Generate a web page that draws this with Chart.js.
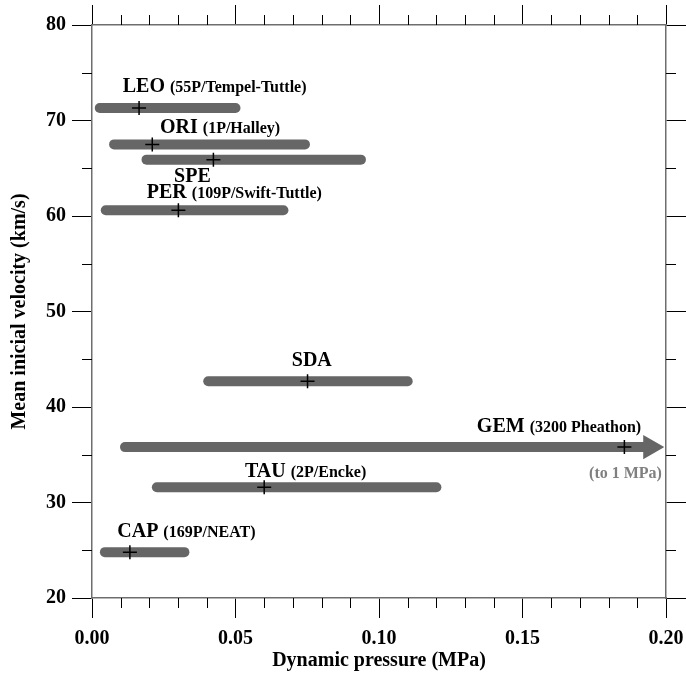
<!DOCTYPE html>
<html>
<head>
<meta charset="utf-8">
<script src="https://cdn.jsdelivr.net/npm/chart.js@4/dist/chart.umd.min.js"></script>
<style>
  body { margin: 0; background: #fff; }
</style>
</head>
<body>
<canvas id="graf" width="686" height="677"></canvas>
<script>
// les essaims : vitesse moyenne et plage de pression dynamique
const essaims = ['LEO', 'ORI', 'SPE', 'PER', 'SDA', 'GEM', 'TAU', 'CAP'];
const parents = ['55P/Tempel-Tuttle', '1P/Halley', '', '109P/Swift-Tuttle', '', '3200 Pheathon', '2P/Encke', '169P/NEAT'];
const vitesse = [71.3, 67.5, 65.9, 60.6, 42.7, 35.8, 31.6, 24.8];
const pressionMin = [0.0027, 0.0077, 0.019, 0.0048, 0.0405, 0.0115, 0.0226, 0.0045];
const pressionMax = [0.050, 0.0742, 0.0937, 0.0667, 0.110, 0.1947, 0.120, 0.0322];
const pressionMoy = [0.0164, 0.021, 0.0423, 0.0301, 0.0751, 0.1855, 0.060, 0.0132];
// GEM continue hors du graphe (jusqu'a 1 MPa) -> fleche
const flecheGEM = {x: 0.1945, y: 35.8};
const noteGEM = '(to 1 MPa)';
// ancrage des etiquettes (MPa, km/s)
const etiqX = [0.0107, 0.0237, 0.0286, 0.0191, 0.0696, 0.1341, 0.0533, 0.0088];
const etiqY = [73.0, 68.7, 63.55, 61.85, 44.3, 37.4, 32.7, 26.4];
const noteAt = {x: 0.1732, y: 32.55};

const xTicks = [0, 0.05, 0.10, 0.15, 0.20];
const yTicks = [20, 30, 40, 50, 60, 70, 80];

const police = '"Liberation Serif", "DejaVu Serif", serif';
const gris = '#666666';

Chart.defaults.font.family = police;
Chart.defaults.color = '#000';

// les barres
const jeux = essaims.map((nom, i) => ({
  label: nom,
  data: [{x: pressionMin[i], y: vitesse[i]}, {x: pressionMax[i], y: vitesse[i]}],
  showLine: true,
  borderColor: gris,
  borderWidth: 10,
  borderCapStyle: 'round',
  pointRadius: 0,
  order: 2
}));
// fleche GEM
jeux.push({
  label: 'fleche',
  data: [flecheGEM],
  pointStyle: 'triangle',
  rotation: 90,
  pointRadius: 12,
  backgroundColor: gris,
  borderColor: gris,
  borderWidth: 2,
  order: 2
});
// les croix (moyennes)
jeux.push({
  label: 'moyenne',
  data: essaims.map((nom, i) => ({x: pressionMoy[i], y: vitesse[i]})),
  pointStyle: 'cross',
  pointRadius: 7,
  borderColor: '#000',
  borderWidth: 1.5,
  order: 0
});

// petites graduations + textes
const decor = {
  id: 'decor',
  afterDraw(chart) {
    const ctx = chart.ctx;
    const a = chart.chartArea;
    const sx = chart.scales.x, sy = chart.scales.y;
    ctx.save();
    ctx.strokeStyle = '#000';
    ctx.lineWidth = 1;
    for (let k = 1; k < 20; k++) {
      if (k % 5 === 0) continue;
      const px = Math.round(sx.getPixelForValue(k / 100)) + 0.5;
      ctx.beginPath();
      ctx.moveTo(px, a.bottom); ctx.lineTo(px, a.bottom + 10);
      ctx.moveTo(px, a.top); ctx.lineTo(px, a.top - 10);
      ctx.stroke();
    }
    for (let v = 25; v < 80; v += 10) {
      const py = Math.round(sy.getPixelForValue(v)) + 0.5;
      ctx.beginPath();
      ctx.moveTo(a.left, py); ctx.lineTo(a.left - 10, py);
      ctx.moveTo(a.right, py); ctx.lineTo(a.right + 10, py);
      ctx.stroke();
    }
    ctx.restore();
  },
  afterDatasetsDraw(chart) {
    const ctx = chart.ctx;
    const sx = chart.scales.x, sy = chart.scales.y;
    ctx.save();
    ctx.fillStyle = '#000';
    ctx.textBaseline = 'alphabetic';
    ctx.textAlign = 'left';
    essaims.forEach((nom, i) => {
      const px = sx.getPixelForValue(etiqX[i]);
      const py = sy.getPixelForValue(etiqY[i]);
      ctx.font = 'bold 20px ' + police;
      ctx.fillText(nom, px, py);
      if (parents[i]) {
        const w = ctx.measureText(nom).width;
        ctx.font = 'bold 16px ' + police;
        ctx.fillText('(' + parents[i] + ')', px + w + 5, py);
      }
    });
    ctx.fillStyle = '#808080';
    ctx.font = 'bold 16px ' + police;
    ctx.fillText(noteGEM, sx.getPixelForValue(noteAt.x), sy.getPixelForValue(noteAt.y));
    ctx.restore();
  }
};

const bord = {color: '#6e6e6e', width: 1.5};
const grille = {drawOnChartArea: false, tickLength: 20, tickColor: '#000', tickWidth: 1};

new Chart('graf', {
  type: 'scatter',
  data: {datasets: jeux},
  options: {
    responsive: false,
    animation: false,
    layout: {padding: {top: 5, left: 0, right: 0, bottom: 0}},
    plugins: {legend: {display: false}, tooltip: {enabled: false}},
    scales: {
      x: {
        type: 'linear', position: 'bottom', min: 0, max: 0.2,
        afterBuildTicks: (s) => { s.ticks = xTicks.map(v => ({value: v})); },
        ticks: {callback: (v) => v.toFixed(2), font: {size: 20, weight: 'bold'}, padding: 9, maxRotation: 0},
        grid: grille, border: bord,
        title: {display: true, text: 'Dynamic pressure (MPa)', font: {size: 20, weight: 'bold'}, padding: {top: 0, bottom: 4}},
        afterFit: (s) => { s.height = 79; s.paddingLeft = 0; s.paddingRight = 0; }
      },
      x2: {
        type: 'linear', position: 'top', min: 0, max: 0.2,
        afterBuildTicks: (s) => { s.ticks = xTicks.map(v => ({value: v})); },
        ticks: {display: false},
        grid: grille, border: bord,
        afterFit: (s) => { s.height = 20; s.paddingLeft = 0; s.paddingRight = 0; }
      },
      y: {
        type: 'linear', position: 'left', min: 20, max: 80,
        afterBuildTicks: (s) => { s.ticks = yTicks.map(v => ({value: v})); },
        ticks: {font: {size: 20, weight: 'bold'}, padding: 6},
        grid: grille, border: bord,
        title: {display: true, text: 'Mean inicial velocity (km/s)', font: {size: 20, weight: 'bold'}, padding: {top: 8, bottom: 0}},
        afterFit: (s) => { s.width = 92; }
      },
      y2: {
        type: 'linear', position: 'right', min: 20, max: 80,
        afterBuildTicks: (s) => { s.ticks = yTicks.map(v => ({value: v})); },
        ticks: {display: false},
        grid: grille, border: bord,
        afterFit: (s) => { s.width = 20; }
      }
    }
  },
  plugins: [decor]
});
</script>
</body>
</html>
